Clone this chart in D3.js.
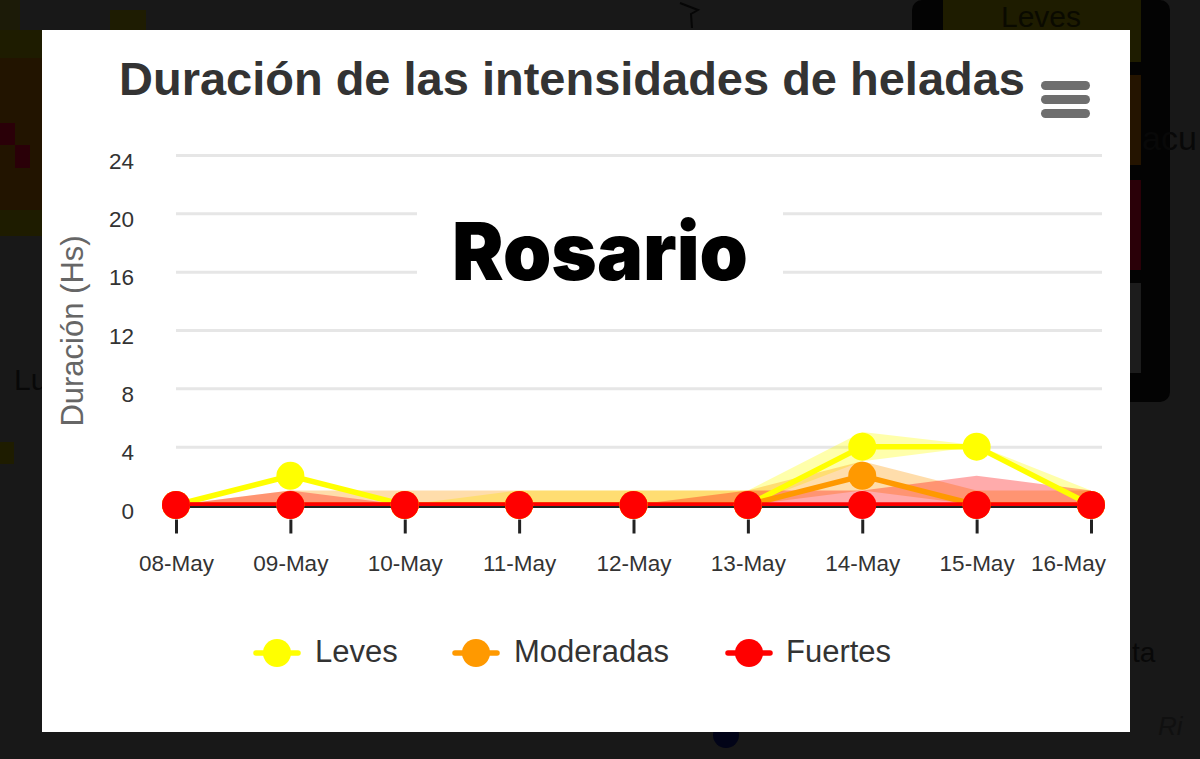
<!DOCTYPE html>
<html lang="es">
<head>
<meta charset="UTF-8"/>
<title>Duración de las intensidades de heladas</title>
<script src="https://d3js.org/d3.v7.min.js"></script>
<style>
  html, body { margin: 0; padding: 0; background: #181818; overflow: hidden; }
  svg { display: block; }
  text { font-family: 'Liberation Sans', Arial, sans-serif; }
  .grid line { stroke: #e6e6e6; stroke-width: 3; }
  .grid path, .axis-y path, .axis-y line { display: none; }
  .axis-y text, .axis-x text { font-size: 22.5px; fill: #333; }
  .axis-x path { stroke: #222; stroke-width: 2; }
  .axis-x line { stroke: #222; stroke-width: 3; }
  text.city { font-family: Inter, sans-serif; font-weight: 900; }
</style>
</head>
<body>
<svg id="chart" width="1200" height="759"></svg>
<script>
const categories = ['08-May', '09-May', '10-May', '11-May', '12-May', '13-May', '14-May', '15-May', '16-May'];
const yTicks = [0, 4, 8, 12, 16, 20, 24];

const leves = [0, 2, 0, 0, 0, 0, 4, 4, 0];
const levesLow = [0, 2, 0, 0, 0, 0, 3, 4, 0];
const levesHigh = [0, 2, 0, 1, 1, 1, 5, 4.1, 1];

const moderadas = [0, 0, 0, 0, 0, 0, 2, 0, 0];
const moderadasLow = [0, 0, 0, 0, 0, 0, 1, 0, 0];
const moderadasHigh = [0, 1, 1, 1, 1, 1, 3, 1, 1];

const fuertes = [0, 0, 0, 0, 0, 0, 0, 0, 0];
const fuertesLow = [0, 0, 0, 0, 0, 0, 0, 0, 0];
const fuertesHigh = [0, 1, 0, 0, 0, 1, 1, 2, 1];

const seriesNames = ['Leves', 'Moderadas', 'Fuertes'];
const seriesColors = ['#ffff00', '#ff9900', '#ff0000'];
const seriesValues = [leves, moderadas, fuertes];
const seriesLows = [levesLow, moderadasLow, fuertesLow];
const seriesHighs = [levesHigh, moderadasHigh, fuertesHigh];

const svg = d3.select('#chart');

// blurred page behind the modal
const bg = svg.append('g');
const bgCell = (x, y, w, h, c) => bg.append('rect').attr('x', x).attr('y', y).attr('width', w).attr('height', h).attr('fill', c);
bgCell(0, 0, 1200, 759, '#181818');
bgCell(0, 0, 20, 30, '#1c1b08');
bgCell(110, 10, 36, 20, '#1e1c02');
bgCell(0, 30, 42, 28, '#1e1c00');
bgCell(0, 58, 42, 152, '#221400');
bgCell(0, 123, 15, 22, '#2a0008');
bgCell(15, 145, 15, 23, '#2a0008');
bgCell(0, 210, 42, 26, '#1e1c00');
bgCell(0, 442, 14, 22, '#1e1c00');
bgCell(912, 0, 258, 402, '#030303').attr('rx', 10);
bgCell(943, 0, 198, 62, '#1e1c00');
bgCell(1130, 75, 11, 90, '#241400');
bgCell(1130, 180, 11, 90, '#2a0008');
bgCell(1130, 283, 11, 90, '#1c1c1c');
bg.append('text').attr('x', 1041).attr('y', 27).attr('text-anchor', 'middle')
  .attr('font-size', 30).attr('fill', '#0a0a00').text('Leves');
bg.append('text').attr('x', 14).attr('y', 390).attr('font-size', 30).attr('fill', '#080808').text('Lu');
bg.append('text').attr('x', 1142).attr('y', 150).attr('font-size', 34).attr('fill', '#080808').text('acu');
bg.append('text').attr('x', 1132).attr('y', 662).attr('font-size', 28).attr('fill', '#080808').text('ta');
bg.append('text').attr('x', 1158).attr('y', 735).attr('font-size', 26).attr('font-style', 'italic').attr('fill', '#101010').text('Ri');
bg.append('ellipse').attr('cx', 726).attr('cy', 735).attr('rx', 13).attr('ry', 13).attr('fill', '#020418');
bg.append('path').attr('d', 'M680 3 L698 10 L691 14 L692 28').attr('fill', 'none').attr('stroke', '#060606').attr('stroke-width', 2);

// white modal
svg.append('rect').attr('x', 42).attr('y', 30).attr('width', 1088).attr('height', 702).attr('fill', '#fff');

const x = d3.scalePoint().domain(categories).range([176, 1091]);
const y = d3.scaleLinear().domain([0, 24]).range([505, 155]);

// grid
svg.append('g').attr('class', 'grid')
  .attr('transform', 'translate(176,0)')
  .call(d3.axisLeft(y).tickValues(yTicks.slice(1)).tickSize(-926).tickFormat(''));

// y axis
const yAxis = svg.append('g').attr('class', 'axis-y')
  .attr('transform', 'translate(134,6)')
  .call(d3.axisLeft(y).tickValues(yTicks).tickSize(0).tickPadding(0));
yAxis.selectAll('text').attr('text-anchor', 'end');

svg.append('text')
  .attr('transform', 'translate(83,331) rotate(-90)')
  .attr('text-anchor', 'middle')
  .attr('font-size', 31)
  .attr('fill', '#666')
  .text('Duración (Hs)');

// white box behind the city name
svg.append('rect').attr('x', 417).attr('y', 180).attr('width', 366).attr('height', 115).attr('fill', '#fff');
svg.append('text')
  .attr('class', 'city')
  .attr('x', 600).attr('y', 280)
  .attr('text-anchor', 'middle')
  .attr('font-size', 80)
  .attr('fill', '#000')
  .attr('textLength', 296)
  .attr('lengthAdjust', 'spacingAndGlyphs')
  .text('Rosario');

// title
svg.append('text')
  .attr('x', 572).attr('y', 95)
  .attr('text-anchor', 'middle')
  .attr('font-weight', 700)
  .attr('font-size', 46)
  .attr('fill', '#333')
  .attr('textLength', 906)
  .attr('lengthAdjust', 'spacingAndGlyphs')
  .text('Duración de las intensidades de heladas');

// hamburger menu
const menu = svg.append('g').attr('fill', '#6e6e6e');
[81, 95, 109].forEach(top => {
  menu.append('rect').attr('x', 1041).attr('y', top).attr('width', 49).attr('height', 9).attr('rx', 4.5);
});

// range bands
const area = d3.area()
  .x((d, i) => x(categories[i]))
  .y0(d => y(d[0]))
  .y1(d => y(d[1]));

seriesNames.forEach((name, s) => {
  const band = seriesLows[s].map((low, i) => [low, seriesHighs[s][i]]);
  svg.append('path')
    .attr('d', area(band))
    .attr('fill', seriesColors[s])
    .attr('fill-opacity', 0.33);
});

// lines
const line = d3.line()
  .x((d, i) => x(categories[i]))
  .y(d => y(d));

seriesNames.forEach((name, s) => {
  svg.append('path')
    .attr('d', line(seriesValues[s]))
    .attr('fill', 'none')
    .attr('stroke', seriesColors[s])
    .attr('stroke-width', 5.5);
});

// x axis, over the red line so its dark edge shows
const xAxis = svg.append('g').attr('class', 'axis-x')
  .attr('transform', 'translate(0,506.5)')
  .call(d3.axisBottom(x).tickSize(27).tickSizeOuter(0).tickPadding(22));
xAxis.selectAll('.tick line').attr('y1', 13);
xAxis.selectAll('.tick text').filter(d => d === '16-May').attr('dx', -23);

// markers, only the visible ones show because the later series sit on top
seriesNames.forEach((name, s) => {
  svg.append('g').selectAll('circle')
    .data(seriesValues[s])
    .enter()
    .append('circle')
    .attr('cx', (d, i) => x(categories[i]))
    .attr('cy', d => y(d))
    .attr('r', 14)
    .attr('fill', seriesColors[s]);
});

// legend
const legendX = [277, 476, 749];
const legendText = [315, 514, 786];
seriesNames.forEach((name, s) => {
  const g = svg.append('g');
  g.append('line')
    .attr('x1', legendX[s] - 21).attr('x2', legendX[s] + 21)
    .attr('y1', 653).attr('y2', 653)
    .attr('stroke', seriesColors[s])
    .attr('stroke-width', 5.5)
    .attr('stroke-linecap', 'round');
  g.append('circle')
    .attr('cx', legendX[s]).attr('cy', 653).attr('r', 14)
    .attr('fill', seriesColors[s]);
  g.append('text')
    .attr('x', legendText[s]).attr('y', 662)
    .attr('font-size', 31)
    .attr('fill', '#333')
    .text(name);
});
</script>
</body>
</html>
